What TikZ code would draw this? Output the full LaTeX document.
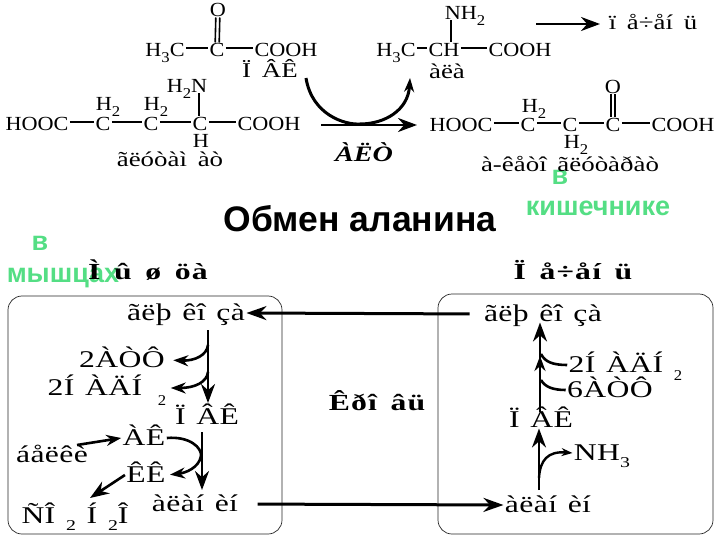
\documentclass[tikz,border=0pt]{standalone}
\usepackage{fontspec}
\setmainfont{Liberation Serif}[FakeStretch=1.11]
\newfontfamily\sansf{Liberation Sans}
\newfontfamily\midf{Liberation Serif}[FakeStretch=1.28,WordSpace=1.6]
\newfontfamily\widef{Liberation Serif}[FakeStretch=1.32,WordSpace=1.3,LetterSpace=1.5]
\newfontfamily\headf{Liberation Serif}[FakeStretch=1.38,LetterSpace=5,WordSpace=1.5]
\usetikzlibrary{arrows.meta}
\definecolor{grn}{RGB}{84,222,132}
\newcommand{\subb}[1]{\raisebox{-.3em}{\fontsize{15}{15}\selectfont #1}}
\tikzset{
 x=1pt,y=-1pt,
 lab/.style={font=\fontsize{20}{22}\selectfont,text height=13pt,text depth=0pt,inner xsep=1.5pt,inner ysep=1pt,outer sep=0pt,text=black},
 mid/.style={lab,font=\fontsize{21}{23}\selectfont\midf},
 head/.style={lab,font=\fontsize{23}{25}\selectfont\headf\bfseries},
 big/.style={lab,font=\fontsize{24}{26}\selectfont\widef,text height=15pt},
 greenlab/.style={font=\fontsize{27}{29}\selectfont\sansf\bfseries,text=grn,inner sep=0pt},
 bond/.style={line width=1.4pt,transform canvas={yshift=2pt}},
 tbond/.style={line width=2.6pt,transform canvas={yshift=2pt}},
 vbond/.style={line width=1.6pt},
 arr/.style={line width=2.6pt,-{Stealth[length=19pt,width=14pt]}},
 sarr/.style={line width=2.6pt,-{Stealth[length=15pt,width=11pt]}},
 flow/.style={line width=3pt,-{Stealth[length=20pt,width=14pt]}},
 box/.style={draw=black!85,line width=.7pt,rounded corners=14pt},
}
\begin{document}
\begin{tikzpicture}
\useasboundingbox (0,0) rectangle (720,540);
\coordinate (x199) at (199,0);
\coordinate (x451) at (451,0);
\coordinate (x540) at (540,0);
\coordinate (x539) at (539,0);
% green first, so that the headings lie over them
\node[greenlab] (g1) at (560,177) {в};
\node[greenlab] (g2) at (598,208) {кишечнике};
\node[greenlab] (g3) at (40,243) {в};
\node[greenlab] (g4) at (63,278) {мышцах};
% top left molecule
\node[lab] (o1) at (218,10) {O};
\node[lab] (m1) at (165,50) {H\subb{3}C};
\node[lab] (c1) at (217,50) {C};
\node[lab] (k1) at (286,50) {COOH};
\draw[vbond,transform canvas={xshift=-2pt}] (o1) -- (c1);
\draw[vbond,transform canvas={xshift=2pt}] (o1) -- (c1);
\draw[bond] (m1) -- (c1);
\draw[bond] (c1) -- (k1);
\node[mid] (pvk1) at (270,71) {Ï ÂÊ};
% glutamate
\node[lab] (a1) at (37,124) {HOOC};
\node[lab] (c2) at (103,124) {C};
\node[lab] (c3) at (151,124) {C};
\node[lab] (c4) at (200,124) {C};
\node[lab] (k2) at (269,124) {COOH};
\node[lab] (h1) at (108,104) {H\subb{2}};
\node[lab] (h2) at (156,104) {H\subb{2}};
\node[lab] (h3) at (187,86) {H\subb{2}N};
\node[lab] (h4) at (201,141) {H};
\draw[bond] (a1) -- (c2);
\draw[bond] (c2) -- (c3);
\draw[tbond] (c3) -- (c4);
\draw[tbond] (c4) -- (k2);
\draw[vbond] (h3.south -| x199) -- (c4.north -| x199);
\node[mid] (glu) at (170,160) {ãëóòàì àò};
% central reaction
\node[lab,font=\fontsize{22}{24}\selectfont\midf\bfseries\itshape] (alt) at (364,155) {ÀËÒ};
\coordinate (rs) at (321,125);
\coordinate (re) at (417,125);
\draw[arr] (rs) -- (re);
\coordinate (cs) at (306,78);
\coordinate (ce) at (410,78);
\draw[line width=3pt,-{Stealth[length=14pt,width=10pt]}] (cs) .. controls (312,115) and (345,125) .. (360,124) .. controls (385,124) and (408,110) .. (ce);
% alanine
\node[lab] (n2) at (465,13) {NH\subb{2}};
\node[lab] (m2) at (396,50) {H\subb{3}C};
\node[lab] (ch) at (444,50) {CH};
\node[lab] (k3) at (520,50) {COOH};
\draw[bond] (m2) -- (ch);
\draw[bond] (ch) -- (k3);
\draw[line width=2pt] (n2.south -| x451) -- (ch.north -| x451);
\node[mid] (ala) at (447,72) {àëà};
\node[mid] (liv1) at (653,23) {ï å÷åí ü};
\coordinate (la) at (536,24);
\coordinate (lb) at (600,24);
\draw[arr] (la) -- (lb);
% ketoglutarate
\node[lab] (a2) at (461,125) {HOOC};
\node[lab] (c5) at (528,125) {C};
\node[lab] (c6) at (570,125) {C};
\node[lab] (c7) at (613,125) {C};
\node[lab] (k4) at (683,125) {COOH};
\node[lab] (h5) at (534,106) {H\subb{2}};
\node[lab] (h6) at (576,142) {H\subb{2}};
\node[lab] (o2) at (613,87) {O};
\draw[bond] (a2) -- (c5);
\draw[bond] (c5) -- (c6);
\draw[bond] (c6) -- (c7);
\draw[bond] (c7) -- (k4);
\draw[vbond,transform canvas={xshift=-2pt}] (o2) -- (c7);
\draw[vbond,transform canvas={xshift=2pt}] (o2) -- (c7);
\node[mid] (akg) at (570,165) {à-êåòî ãëóòàðàò};
% title
\node[font=\fontsize{35.5}{38}\selectfont\sansf\bfseries,inner sep=0pt] (title) at (360,219) {Обмен аланина};
% headings
\node[head] (mh) at (148,273) {Ì û ø öà};
\node[head] (lh) at (573,273) {Ï å÷åí ü};
\node[head] (blood) at (377,404) {Êðî âü};
% boxes
\node[box,minimum width=274pt,minimum height=238pt,inner sep=0pt] (lbox) at (145,415) {};
\node[box,minimum width=275pt,minimum height=240pt,inner sep=0pt] (rbox) at (575.5,414) {};
% muscle
\node[big] (g5) at (186,313) {ãëþ êî çà};
\node[big] (atp) at (122,360) {2ÀÒÔ};
\node[big] (nad) at (95,388) {2Í ÀÄÍ};
\node[lab] (nad2) at (162,399) {\fontsize{15}{15}\selectfont 2};
\node[big] (p1) at (207,417) {Ï ÂÊ};
\node[big] (ak) at (144,438) {ÀÊ};
\node[big] (kk) at (146,475) {ÊÊ};
\node[big] (prot) at (52,455) {áåëêè};
\node[big] (co) at (75,516) {ÑÎ \subb{2} Í \subb{2}Î};
\node[big] (al1) at (195,504) {àëàí èí};
\coordinate (m1a) at (208,330);
\coordinate (m1b) at (208,403);
\draw[arr] (m1a) -- (m1b);
\coordinate (t1) at (208,345);
\coordinate (t2) at (208,372);
\draw[sarr,shorten >=7pt] (t1) .. controls (207,355) and (195,361) .. (atp.east);
\draw[sarr,shorten >=27pt] (t2) .. controls (207,382) and (195,388) .. (nad.east);
\coordinate (m2a) at (202,432);
\coordinate (m2b) at (202,490);
\draw[arr] (m2a) -- (m2b);
\draw[sarr,shorten >=3pt] (ak.east) .. controls (190,436) and (202,448) .. (201,456) .. controls (199,468) and (185,473) .. (kk.east);
\coordinate (pa) at (77,445);
\draw[sarr] (pa) -- (ak.west);
\coordinate (cob) at (90,498);
\draw[arr] (kk.west) -- (cob);
% liver
\node[big] (g6) at (543,314) {ãëþ êî çà};
\node[big] (nadb) at (616,365) {2Í ÀÄÍ};
\node[lab] (nadc) at (678,374) {\fontsize{15}{15}\selectfont 2};
\node[big] (atpb) at (610,390) {6ÀÒÔ};
\node[big] (p2) at (541,420) {Ï ÂÊ};
\node[big] (nh) at (602,453) {NH\subb{3}};
\node[big] (al2) at (548,505) {àëàí èí};
\draw[arr] (p2.north -| x540) -- (g6.south -| x540);
\coordinate (l1) at (540,356);
\coordinate (l2) at (540,397);
\draw[sarr] (l2) -- (l1);
\draw[line width=2.6pt] (nadb.west) .. controls (553,365) and (545,362) .. (541,354);
\draw[line width=2.6pt] (atpb.west) .. controls (553,390) and (545,387) .. (541,380);
\coordinate (l3) at (539,490);
\draw[arr] (l3) -- (p2.south -| x539);
\coordinate (l4) at (539,478);
\draw[line width=2.4pt,-{Stealth[length=11pt,width=8pt]}] (l4) .. controls (540,460) and (548,451) .. (nh.west);
% blood flow
\draw[flow,shorten <=13pt] (g6.west) -- (g5.east);
\draw[flow,shorten <=18pt] (al1.east) -- (al2.west);
\end{tikzpicture}
\end{document}
